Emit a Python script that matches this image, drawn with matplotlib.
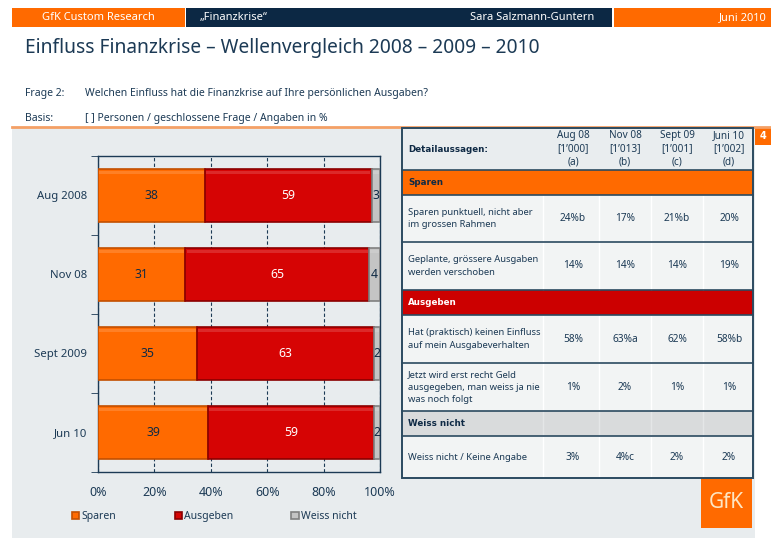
import matplotlib
matplotlib.use('Agg')
import matplotlib.pyplot as plt
from matplotlib.patches import Rectangle
import numpy as np

plt.rcParams['font.family'] = ['Noto Sans', 'DejaVu Sans']

# ---- data ----
waves = ['Aug 2008', 'Nov 08', 'Sept 2009', 'Jun 10']
sparen = [38, 31, 35, 39]
ausgeben = [59, 65, 63, 59]
weiss_nicht = [3, 4, 2, 2]
series_names = ['Sparen', 'Ausgeben', 'Weiss nicht']
x_ticks = [0, 20, 40, 60, 80, 100]

col_heads = ['Aug 08\n[1\u2019000]\n(a)', 'Nov 08\n[1\u2019013]\n(b)',
             'Sept 09\n[1\u2019001]\n(c)', 'Juni 10\n[1\u2019002]\n(d)']
sections = ['Sparen', 'Ausgeben', 'Weiss nicht']
statements = [
    ['Sparen punktuell, nicht aber\nim grossen Rahmen',
     'Geplante, grössere Ausgaben\nwerden verschoben'],
    ['Hat (praktisch) keinen Einfluss\nauf mein Ausgabeverhalten',
     'Jetzt wird erst recht Geld\nausgegeben, man weiss ja nie\nwas noch folgt'],
    ['Weiss nicht / Keine Angabe'],
]
table_values = [
    [['24%b', '17%', '21%b', '20%'], ['14%', '14%', '14%', '19%']],
    [['58%', '63%a', '62%', '58%b'], ['1%', '2%', '1%', '1%']],
    [['3%', '4%c', '2%', '2%']],
]

# ---- colours ----
navy = '#1c3a55'
dark = '#0f2a45'
orange = '#ff6a00'
red = '#d60404'
grey = '#c4c4c4'
panel = '#e8ecee'
sec_colors = [orange, '#cc0000', '#d9dbdc']
sec_text = [dark, 'white', dark]
bold_font = 'DejaVu Sans'

W, H = 771, 538
fig = plt.figure(figsize=(W / 100, H / 100), dpi=100)
bg = fig.add_axes([0, 0, 1, 1])
bg.set_xlim(0, W)
bg.set_ylim(H, 0)
bg.axis('off')

# header bar
bg.add_patch(Rectangle((12, 8), 173, 19, color=orange, lw=0))
bg.add_patch(Rectangle((186, 8), 426, 19, color='#0c2844', lw=0))
bg.add_patch(Rectangle((614, 8), 157, 19, color=orange, lw=0))
bg.text(98, 17.5, 'GfK Custom Research', color='white', fontsize=8, ha='center', va='center')
bg.text(200, 17.5, '\u201eFinanzkrise\u201c', color='white', fontsize=8, va='center')
bg.text(594, 17.5, 'Sara Salzmann-Guntern', color='white', fontsize=8, ha='right', va='center')
bg.text(767, 17.5, 'Juni 2010', color='white', fontsize=8, ha='right', va='center')

bg.text(25, 48, 'Einfluss Finanzkrise \u2013 Wellenvergleich 2008 \u2013 2009 \u2013 2010',
        color=navy, fontsize=13.8, va='center')
bg.text(25, 96, 'Frage 2:', color=navy, fontsize=7.5, va='baseline')
bg.text(85, 96, 'Welchen Einfluss hat die Finanzkrise auf Ihre persönlichen Ausgaben?',
        color=navy, fontsize=7.5, va='baseline')
bg.text(25, 121, 'Basis:', color=navy, fontsize=7.5, va='baseline')
bg.text(85, 121, '[ ] Personen / geschlossene Frage / Angaben in %', color=navy,
        fontsize=7.5, va='baseline')

# grey panel and orange rule
bg.add_patch(Rectangle((12, 128), 743, 410, color=panel, lw=0))
bg.plot([12, 771], [126.5, 126.5], color='#f4a066', lw=2)
bg.add_patch(Rectangle((755, 128), 16, 17, color=orange, lw=0))
bg.text(763, 136, '4', color='white', fontsize=7, fontweight='bold', family=bold_font,
        ha='center', va='center')

# ---- table ----
tx0, tx1 = 402, 753
col_c = [573, 625, 677, 729]
col_e = [543, 599, 651, 703]
head_top, head_bot = 128, 170
sec_h = 25
row_h = [[47, 48], [48, 48], [42]]

bg.add_patch(Rectangle((tx0, head_top), tx1 - tx0, head_bot - head_top, color='#e9edef', lw=0))
bg.text(408, 150, 'Detailaussagen:', color=dark, fontsize=6.3, fontweight='bold',
        family=bold_font, va='center')
for cx, lab in zip(col_c, col_heads):
    bg.text(cx, 149, lab, color=navy, fontsize=7.2, ha='center', va='center', linespacing=1.3)

y = head_bot
hlines = [head_bot]
for s, name in enumerate(sections):
    bg.add_patch(Rectangle((tx0, y), tx1 - tx0, sec_h, color=sec_colors[s], lw=0))
    bg.text(408, y + sec_h / 2, name, color=sec_text[s], fontsize=6.3, fontweight='bold',
            family=bold_font, va='center')
    if s == 2:
        for e in col_e:
            bg.plot([e, e], [y, y + sec_h], color='#e4e6e7', lw=1)
    y += sec_h
    hlines.append(y)
    for r, txt in enumerate(statements[s]):
        h = row_h[s][r]
        bg.add_patch(Rectangle((tx0, y), tx1 - tx0, h, color='#f2f4f4', lw=0))
        for e in col_e:
            bg.plot([e, e], [y + 1, y + h - 1], color='white', lw=1)
        bg.text(408, y + h / 2, txt, color=navy, fontsize=6.8, va='center', linespacing=1.55)
        for cx, v in zip(col_c, table_values[s][r]):
            bg.text(cx, y + h / 2, v, color=navy, fontsize=7.3, ha='center', va='center')
        y += h
        hlines.append(y)
for hy in hlines[:-1]:
    bg.plot([tx0, tx1], [hy, hy], color='#2b4a60', lw=1.2)
bg.add_patch(Rectangle((tx0, head_top), tx1 - tx0, y - head_top, fill=False,
                       edgecolor='#2b4a60', lw=1.4, zorder=5))

# logo
bg.add_patch(Rectangle((701, 478), 51, 50, color=orange, lw=0))
bg.text(726.5, 502, 'GfK', color='#fde6c4', fontsize=15, ha='center', va='center')

# ---- bar chart ----
ax = fig.add_axes([98 / W, 1 - 472 / H, 282 / W, 316 / H])
ax.set_facecolor(panel)
yp = np.arange(len(waves))
h = 0.66
sp = np.array(sparen)
au = np.array(ausgeben)
wn = np.array(weiss_nicht)
segs = [(sp, np.zeros(len(sp)), orange, '#c24f00', dark),
        (au, sp, red, '#8a0000', 'white'),
        (wn, sp + au, grey, '#808080', dark)]
for (vals, left, c, ec, tc), name in zip(segs, series_names):
    ax.barh(yp, vals, left=left, height=h, color=c, edgecolor=ec, lw=1.2, label=name, zorder=3)
    # bevel highlight
    ax.barh(yp - h / 2 + 0.035, vals - 0.8, left=left + 0.4, height=0.04,
            color='white', alpha=0.15, lw=0, zorder=4)
    for yi, v, l in zip(yp, vals, left):
        ax.text(l + v / 2, yi, str(v), color=tc, fontsize=8.8, ha='center', va='center', zorder=5)

ax.set_xlim(0, 100)
ax.set_ylim(len(waves) - 0.5, -0.5)
ax.set_xticks(x_ticks)
ax.set_xticklabels([f'{t}%' for t in x_ticks], color=navy, fontsize=9)
ax.tick_params(axis='x', length=0, pad=10)
ax.set_yticks(yp)
ax.set_yticklabels(waves, color=navy, fontsize=8.2)
ax.tick_params(axis='y', length=0, pad=8)
ax.set_yticks(np.arange(len(waves) + 1) - 0.5, minor=True)
ax.tick_params(axis='y', which='minor', length=5, color=navy, direction='out')
ax.grid(axis='x', color=navy, ls=(0, (3, 2)), lw=0.8, zorder=1)
for sp_ in ax.spines.values():
    sp_.set_color(navy)
    sp_.set_linewidth(1)

leg = ax.legend(loc='center left', bbox_to_anchor=(-0.092, -0.142), borderaxespad=0,
                borderpad=0, ncol=3, frameon=False,
                fontsize=7.5, handlelength=0.7, handleheight=0.7, handletextpad=0.2,
                columnspacing=5.6, labelcolor=navy)

fig.savefig('out.png', dpi=100)
